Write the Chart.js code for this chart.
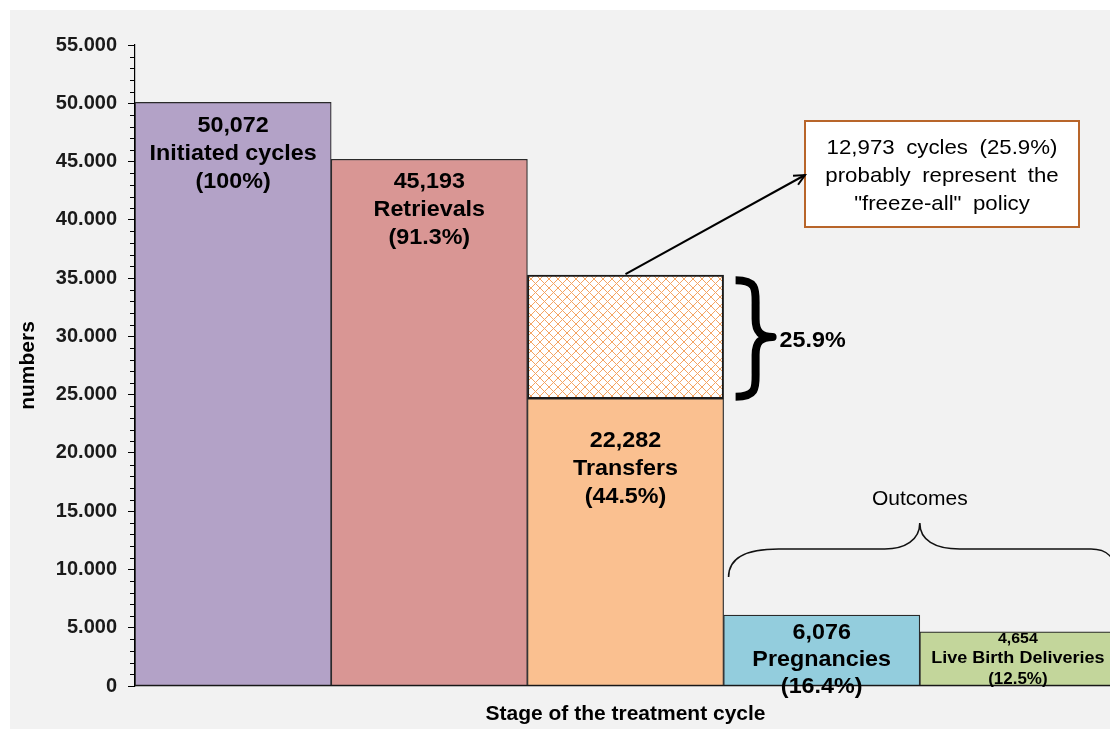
<!DOCTYPE html>
<html><head><meta charset="utf-8">
<script src="https://cdn.jsdelivr.net/npm/chart.js@4.4.1/dist/chart.umd.min.js"></script>
<style>html,body{margin:0;padding:0;overflow:hidden;background:#fff;width:1110px;height:729px}canvas{display:block}</style>
</head><body>
<canvas id="c" width="1116" height="729" style="width:1116px;height:729px"></canvas>
<script>
// ---- data ----
const categories = ['Initiated cycles', 'Retrievals', 'Transfers', 'Pregnancies', 'Live Birth Deliveries'];
const cycleCounts = [50072, 45193, 24650, 6076, 4654];        // solid bar heights as drawn
const freezeAllPortion = [null, null, 10600, null, null];     // hatched part on top of transfers
const valueLabels = ['50,072', '45,193', '22,282', '6,076', '4,654'];
const pctLabels = ['(100%)', '(91.3%)', '(44.5%)', '(16.4%)', '(12.5%)'];
const yTicks = [0, 5000, 10000, 15000, 20000, 25000, 30000, 35000, 40000, 45000, 50000, 55000];
const yTickLabels = ['0', '5.000', '10.000', '15.000', '20.000', '25.000', '30.000', '35.000', '40.000', '45.000', '50.000', '55.000'];
const freezeAllNote = ['12,973 cycles (25.9%)', 'probably represent the', '"freeze-all" policy'];
const freezeAllPct = '25.9%';
const outcomesLabel = 'Outcomes';
const xTitle = 'Stage of the treatment cycle';
const yTitle = 'numbers';

// ---- style ----
const FONT = '"Liberation Sans", Arial, Helvetica, sans-serif';
const barColors = ['#b3a2c7', '#d99694', '#fac090', '#93cddd', '#c3d69b'];
const labelFirstOffset = [30, 29, 48, 24, 11];
const labelGap = [28, 28, 28, 27, 20.5];
const labelSizes = [[22, 22, 22], [22, 22, 22], [22, 22, 22], [22, 22, 22], [15, 17, 16]];
const SX = 1.06;

const canvas = document.getElementById('c');
const ctx0 = canvas.getContext('2d');

function makeHatch() {
  const n = 9;
  const p = document.createElement('canvas');
  p.width = n; p.height = n;
  const g = p.getContext('2d');
  g.fillStyle = '#ffffff'; g.fillRect(0, 0, n, n);
  g.strokeStyle = '#f4a462'; g.lineWidth = 1;
  g.beginPath();
  g.moveTo(0, 0); g.lineTo(n, n);
  g.moveTo(n, 0); g.lineTo(0, n);
  g.stroke();
  return ctx0.createPattern(p, 'repeat');
}
const hatch = makeHatch();

function txt(ctx, s, x, y, font, align, sx) {
  ctx.save();
  ctx.font = font;
  ctx.fillStyle = '#000';
  ctx.textAlign = align || 'center';
  ctx.textBaseline = 'alphabetic';
  ctx.translate(x, y);
  ctx.scale(sx || SX, 1);
  ctx.fillText(s, 0, 0);
  ctx.restore();
}

const bgPlugin = {
  id: 'bg',
  beforeDraw(chart) {
    const c = chart.ctx;
    c.save();
    c.fillStyle = '#ffffff'; c.fillRect(0, 0, chart.width, chart.height);
    c.fillStyle = '#f2f2f2'; c.fillRect(10, 10, chart.width - 10, chart.height - 10);
    c.restore();
  }
};

const minorTicks = {
  id: 'minorTicks',
  afterDraw(chart) {
    const y = chart.scales.y, c = chart.ctx;
    c.save();
    c.strokeStyle = '#000'; c.lineWidth = 1;
    c.beginPath();
    for (let v = 1000; v < 55000; v += 1000) {
      if (v % 5000 === 0) continue;
      const py = Math.round(y.getPixelForValue(v)) + 0.5;
      c.moveTo(y.right - 5, py); c.lineTo(y.right, py);
    }
    c.stroke();
    c.restore();
  }
};

const barLabels = {
  id: 'barLabels',
  afterDatasetsDraw(chart) {
    const c = chart.ctx;
    const meta = chart.getDatasetMeta(0);
    meta.data.forEach((bar, i) => {
      const lines = [valueLabels[i], categories[i], pctLabels[i]];
      let y = bar.y + labelFirstOffset[i];
      lines.forEach((s, k) => {
        txt(c, s, bar.x, y, 'bold ' + labelSizes[i][k] + 'px ' + FONT, 'center');
        y += labelGap[i];
      });
    });
  }
};

const annotations = {
  id: 'annotations',
  afterDraw(chart) {
    const c = chart.ctx;
    const hb = chart.getDatasetMeta(1).data[2];
    const m0 = chart.getDatasetMeta(0).data;
    const top = hb.y, bot = hb.base, right = hb.x + hb.width / 2;

    // thick curly brace beside the hatched part
    const x0 = right + 12, xm = right + 32, xt = right + 49;
    const y0 = top + 5, y1 = bot - 2, ym = (top + bot) / 2;
    c.save();
    c.strokeStyle = '#000'; c.lineWidth = 8; c.lineJoin = 'round';
    c.beginPath();
    c.moveTo(x0, y0);
    c.bezierCurveTo(xm + 2, y0, xm, y0 + 10, xm, y0 + 26);
    c.lineTo(xm, ym - 18);
    c.bezierCurveTo(xm, ym - 5, xm + 5, ym, xt, ym);
    c.bezierCurveTo(xm + 5, ym, xm, ym + 5, xm, ym + 18);
    c.lineTo(xm, y1 - 26);
    c.bezierCurveTo(xm, y1 - 10, xm + 2, y1, x0, y1);
    c.stroke();
    c.restore();
    txt(c, freezeAllPct, xt + 7, ym + 10, 'bold 22px ' + FONT, 'left');

    // note box
    const bx = 805, by = 121, bw = 274, bh = 106;
    c.save();
    c.fillStyle = '#ffffff'; c.fillRect(bx, by, bw, bh);
    c.strokeStyle = '#b8652a'; c.lineWidth = 2; c.strokeRect(bx, by, bw, bh);
    c.restore();
    c.save();
    try { c.wordSpacing = '5px'; } catch (e) {}
    freezeAllNote.forEach((s, k) => txt(c, s, bx + bw / 2, 154 + k * 28, '21px ' + FONT, 'center'));
    c.restore();

    // arrow from hatched top to box
    const ax = hb.x, ay = top - 1, tx = bx, ty = by + bh / 2 + 1;
    const ang = Math.atan2(ty - ay, tx - ax);
    c.save();
    c.strokeStyle = '#000'; c.lineWidth = 2;
    c.beginPath(); c.moveTo(ax, ay); c.lineTo(tx, ty); c.stroke();
    c.beginPath();
    c.moveTo(tx - 12 * Math.cos(ang - 0.45), ty - 12 * Math.sin(ang - 0.45));
    c.lineTo(tx, ty);
    c.lineTo(tx - 12 * Math.cos(ang + 0.45), ty - 12 * Math.sin(ang + 0.45));
    c.stroke();
    c.restore();

    // outcomes brace
    const pl = m0[3].x - m0[3].width / 2 + 5, tip = m0[3].x + m0[3].width / 2, pr = m0[4].x + m0[4].width / 2;
    const yb = 549, ye = 577, yt = 523;
    c.save();
    c.strokeStyle = '#111'; c.lineWidth = 1.6;
    c.beginPath();
    c.moveTo(pl, ye);
    c.bezierCurveTo(pl, yb + 6, pl + 22, yb, pl + 50, yb);
    c.lineTo(tip - 35, yb);
    c.bezierCurveTo(tip - 15, yb, tip, yb - 9, tip, yt);
    c.bezierCurveTo(tip, yb - 9, tip + 15, yb, tip + 40, yb);
    c.lineTo(pr - 25, yb);
    c.bezierCurveTo(pr - 10, yb, pr, yb + 8, pr, ye - 2);
    c.stroke();
    c.restore();
    txt(c, outcomesLabel, tip, 505, '20px ' + FONT, 'center', 1.05);
  }
};

new Chart(canvas, {
  type: 'bar',
  data: {
    labels: categories,
    datasets: [
      {
        data: cycleCounts,
        backgroundColor: barColors,
        borderColor: '#2a2a2a',
        borderWidth: 1.2,
        borderSkipped: false,
        categoryPercentage: 1,
        barPercentage: 1
      },
      {
        data: freezeAllPortion,
        backgroundColor: hatch,
        borderColor: '#1a1a1a',
        borderWidth: 2,
        borderSkipped: false,
        categoryPercentage: 1,
        barPercentage: 1
      }
    ]
  },
  options: {
    responsive: false,
    animation: false,
    devicePixelRatio: 1,
    layout: { padding: { top: 45, left: 0, right: 0, bottom: 0 } },
    plugins: { legend: { display: false }, tooltip: { enabled: false } },
    scales: {
      x: {
        stacked: true,
        grid: { display: false },
        ticks: { display: false },
        border: { display: true, color: '#000', width: 1.2 },
        title: { display: true, text: xTitle, color: '#000', font: { family: FONT, size: 21, weight: 'bold' }, padding: { top: 0, bottom: 2 } },
        afterFit(s) { s.height = 43; }
      },
      y: {
        stacked: true,
        min: 0, max: 55000,
        afterBuildTicks(s) { s.ticks = yTicks.map(v => ({ value: v })); },
        ticks: {
          color: '#1a1a1a',
          padding: 11,
          font: { family: FONT, size: 20, weight: 'bold' },
          callback: (v, i) => yTickLabels[i]
        },
        grid: { display: true, drawOnChartArea: false, drawTicks: true, tickLength: 7, color: '#000', lineWidth: 1 },
        border: { display: true, color: '#000', width: 1.2 },
        title: { display: true, text: yTitle, color: '#000', font: { family: FONT, size: 21, weight: 'bold' }, padding: { top: 16, bottom: 0 } },
        afterFit(s) { s.width = 135; }
      }
    }
  },
  plugins: [bgPlugin, barLabels, minorTicks, annotations]
});
</script>
</body></html>
